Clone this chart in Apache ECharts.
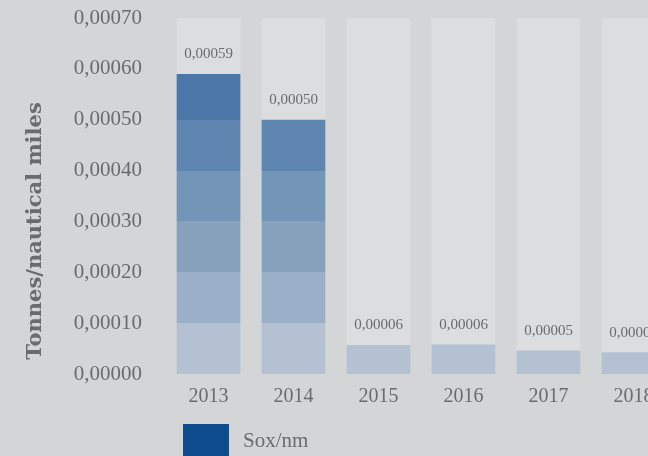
<!DOCTYPE html>
<html>
<head>
<meta charset="utf-8">
<script src="https://cdn.jsdelivr.net/npm/echarts@6/dist/echarts.min.js"></script>
<style>
html,body{margin:0;padding:0;background:#d4d5d7;}
#chart{width:648px;height:456px;}
</style>
</head>
<body>
<div id="chart"></div>
<script>
var categories = ['2013', '2014', '2015', '2016', '2017', '2018'];
var soxPerNm = [0.00059, 0.00050, 0.000057, 0.000058, 0.000046, 0.000043];
var yTicks = [0, 0.0001, 0.0002, 0.0003, 0.0004, 0.0005, 0.0006, 0.0007];
var seriesName = 'Sox/nm';
var yAxisTitle = 'Tonnes/nautical miles';

var bandStep = 0.0001;
var bandColors = ['#b3c1d2', '#9bb0c8', '#87a1bd', '#7295b8', '#5f86b0', '#4a77a8', '#3a69a0'];
var textColor = '#6b6b6b';
var fontFamily = '"Liberation Serif", "DejaVu Serif", serif';

function fmt(v) { return v.toFixed(5).replace('.', ','); }

function bandGradient(v) {
  var stops = [];
  for (var k = 0; k * bandStep < v; k++) {
    var s = (k * bandStep) / v;
    var e = Math.min(((k + 1) * bandStep) / v, 1);
    var c = bandColors[Math.min(k, bandColors.length - 1)];
    stops.push({ offset: s, color: c });
    stops.push({ offset: e, color: c });
  }
  return new echarts.graphic.LinearGradient(0, 1, 0, 0, stops);
}

var chart = echarts.init(document.getElementById('chart'), null, { renderer: 'canvas' });
chart.setOption({
  backgroundColor: '#d4d5d7',
  animation: false,
  grid: { left: 166, top: 18, width: 510, height: 356, containLabel: false, outerBoundsMode: 'none' },
  legend: {
    left: 183, top: 424, padding: 0,
    itemWidth: 46, itemHeight: 34, itemGap: 14,
    icon: 'rect',
    textStyle: { color: textColor, fontFamily: fontFamily, fontSize: 21, padding: [0, 0, 0, 9] },
    data: [{ name: seriesName, itemStyle: { color: '#0e4c8e' } }]
  },
  xAxis: {
    type: 'category',
    data: categories,
    axisLine: { show: false },
    axisTick: { show: false },
    axisLabel: { color: textColor, fontFamily: fontFamily, fontSize: 20, margin: 13 }
  },
  yAxis: {
    type: 'value',
    min: yTicks[0],
    max: yTicks[yTicks.length - 1],
    interval: bandStep,
    splitLine: { show: false },
    axisLine: { show: false },
    axisTick: { show: false },
    axisLabel: {
      color: textColor, fontFamily: fontFamily, fontSize: 21, margin: 24,
      formatter: function (v) { return fmt(v); }
    }
  },
  graphic: [{
    type: 'text',
    x: 36, y: 231,
    rotation: Math.PI / 2,
    style: {
      text: yAxisTitle,
      fill: textColor,
      font: 'bold 21px "DejaVu Serif", serif',
      align: 'center',
      verticalAlign: 'middle'
    }
  }],
  series: [{
    name: seriesName,
    type: 'bar',
    barWidth: '75%',
    showBackground: true,
    backgroundStyle: { color: '#dcdddf' },
    data: soxPerNm.map(function (v) {
      return { value: v, itemStyle: { color: bandGradient(v) } };
    }),
    label: {
      show: true,
      position: 'top',
      distance: 12,
      color: textColor,
      fontFamily: fontFamily,
      fontSize: 15,
      formatter: function (p) { return fmt(p.value); }
    }
  }]
});
</script>
</body>
</html>
